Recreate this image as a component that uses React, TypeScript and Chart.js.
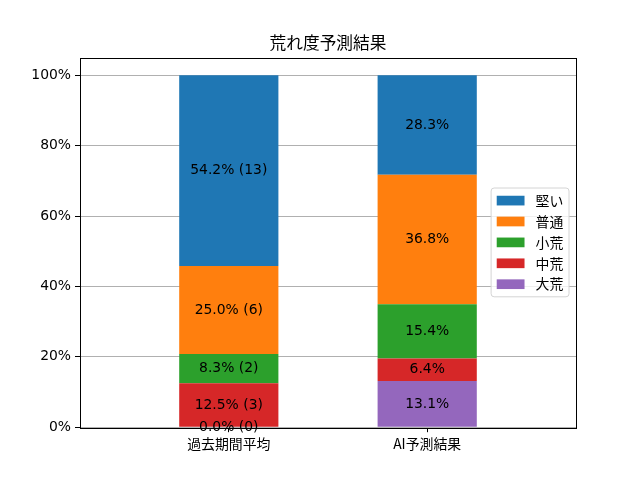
import React, { useEffect, useRef } from "react";
import { Chart, registerables } from "chart.js";

Chart.register(...registerables);

const categories = ["過去期間平均", "AI予測結果"];
const seriesNames = ["大荒", "中荒", "小荒", "普通", "堅い"]; // bottom -> top
const seriesColors = ["#9467bd", "#d62728", "#2ca02c", "#ff7f0e", "#1f77b4"];
const daiare = [0.0, 13.1];
const chuare = [12.5, 6.4];
const shoare = [8.3, 15.4];
const futsu = [25.0, 36.8];
const katai = [54.2, 28.3];
const daiareCount = [0, null];
const chuareCount = [3, null];
const shoareCount = [2, null];
const futsuCount = [6, null];
const kataiCount = [13, null];
const yTicks = [0, 20, 40, 60, 80, 100];
const chartTitle = "荒れ度予測結果";

const seriesValues = [daiare, chuare, shoare, futsu, katai];
const seriesCounts = [daiareCount, chuareCount, shoareCount, futsuCount, kataiCount];

const FONT = "'DejaVu Sans', 'Noto Sans CJK JP', sans-serif";
const JFONT = "'Noto Sans CJK JP', 'DejaVu Sans', sans-serif";
const FS = 13.9;

export default function App() {
  const ref = useRef<HTMLCanvasElement | null>(null);

  useEffect(() => {
    if (!ref.current) return;

    const labelPlugin = {
      id: "segLabels",
      afterDatasetsDraw(chart: any) {
        const ctx = chart.ctx;
        ctx.save();
        ctx.font = `${FS}px ${FONT}`;
        ctx.fillStyle = "#000";
        ctx.textAlign = "center";
        ctx.textBaseline = "middle";
        chart.data.datasets.forEach((ds: any, i: number) => {
          const meta = chart.getDatasetMeta(i);
          meta.data.forEach((el: any, j: number) => {
            const v = ds.data[j].y;
            const c = seriesCounts[i][j];
            const txt = c === null || c === undefined ? `${v.toFixed(1)}%` : `${v.toFixed(1)}% (${c})`;
            const cy = (el.y + el.base) / 2;
            ctx.fillText(txt, el.x, cy);
          });
        });
        ctx.restore();
      },
    };

    const framePlugin = {
      id: "frameLegend",
      afterDraw(chart: any) {
        const ctx = chart.ctx;
        const a = chart.chartArea;
        ctx.save();
        // title
        ctx.font = `${16.7}px ${JFONT}`;
        ctx.fillStyle = "#000";
        ctx.textAlign = "center";
        ctx.textBaseline = "alphabetic";
        ctx.fillText(chartTitle, (a.left + a.right) / 2, a.top - 8.3);
        // frame
        ctx.strokeStyle = "#000";
        ctx.lineWidth = 1;
        ctx.strokeRect(Math.round(a.left) + 0.5, Math.round(a.top) + 0.5, Math.round(a.right - a.left), Math.round(a.bottom - a.top));
        // legend (center right)
        ctx.font = `${FS}px ${JFONT}`;
        const items = chart.data.datasets
          .map((ds: any) => ({ label: ds.label, color: ds.backgroundColor }))
          .reverse();
        const pad = 5.6;
        const handleLen = 27.8;
        const handleH = 9.7;
        const textPad = 11.1;
        const rowH = 14;
        const spacing = 6.9;
        const maxW = Math.max(...items.map((it: any) => ctx.measureText(it.label).width));
        const boxW = pad * 2 + handleLen + textPad + maxW;
        const boxH = pad * 2 + items.length * rowH + (items.length - 1) * spacing;
        const right = a.right - 7;
        const left = right - boxW;
        const cyBox = (a.top + a.bottom) / 2;
        const top = cyBox - boxH / 2;
        ctx.beginPath();
        const r = 3;
        ctx.moveTo(left + r, top);
        ctx.arcTo(left + boxW, top, left + boxW, top + boxH, r);
        ctx.arcTo(left + boxW, top + boxH, left, top + boxH, r);
        ctx.arcTo(left, top + boxH, left, top, r);
        ctx.arcTo(left, top, left + boxW, top, r);
        ctx.closePath();
        ctx.fillStyle = "rgba(255,255,255,0.8)";
        ctx.fill();
        ctx.strokeStyle = "#d4d4d4";
        ctx.stroke();
        ctx.textAlign = "left";
        ctx.textBaseline = "middle";
        items.forEach((it: any, k: number) => {
          const cy = top + pad + rowH / 2 + k * (rowH + spacing);
          ctx.fillStyle = it.color;
          ctx.fillRect(left + pad, cy - handleH / 2, handleLen, handleH);
          ctx.fillStyle = "#000";
          ctx.fillText(it.label, left + pad + handleLen + textPad, cy);
        });
        ctx.restore();
      },
    };

    const chart = new Chart(ref.current, {
      type: "bar",
      data: {
        datasets: seriesNames.map((name, i) => ({
          label: name,
          data: categories.map((_, j) => ({ x: j, y: seriesValues[i][j] })),
          backgroundColor: seriesColors[i],
          borderWidth: 0,
          barPercentage: 1,
          categoryPercentage: 0.5,
        })),
      },
      options: {
        responsive: false,
        animation: false,
        devicePixelRatio: 1,
        layout: { padding: { left: 0, right: 64, top: 57.6, bottom: 0 } },
        plugins: {
          legend: { display: false },
          tooltip: { enabled: false },
          title: { display: false },
        },
        scales: {
          x: {
            type: "linear",
            stacked: true,
            min: -0.75,
            max: 1.75,
            offset: false,
            afterBuildTicks: (s: any) => {
              s.ticks = categories.map((_, j) => ({ value: j }));
            },
            afterFit: (s: any) => {
              s.height = 52.8;
            },
            ticks: {
              callback: (v: any) => categories[v as number] ?? "",
              color: "#000",
              font: { family: JFONT, size: FS },
              padding: 3,
              maxRotation: 0,
              autoSkip: false,
            },
            grid: {
              display: true,
              offset: false,
              drawOnChartArea: false,
              drawTicks: true,
              tickLength: 5,
              tickColor: "#000",
            },
            border: { display: false },
          },
          y: {
            stacked: true,
            min: 0,
            max: 105,
            afterBuildTicks: (s: any) => {
              s.ticks = yTicks.map((v) => ({ value: v }));
            },
            afterFit: (s: any) => {
              s.width = 80;
            },
            ticks: {
              callback: (v: any) => `${v}%`,
              color: "#000",
              font: { family: FONT, size: FS },
              padding: 4,
            },
            grid: {
              color: "#b0b0b0",
              lineWidth: 1,
              tickLength: 5,
              tickColor: "#000",
            },
            border: { display: false },
          },
        },
      },
      plugins: [labelPlugin, framePlugin],
    });

    return () => chart.destroy();
  }, []);

  return (
    <div style={{ position: "fixed", left: 0, top: 0, width: 640, height: 480, background: "#fff" }}>
      <canvas ref={ref} width={640} height={480} style={{ width: 640, height: 480 }} />
    </div>
  );
}
